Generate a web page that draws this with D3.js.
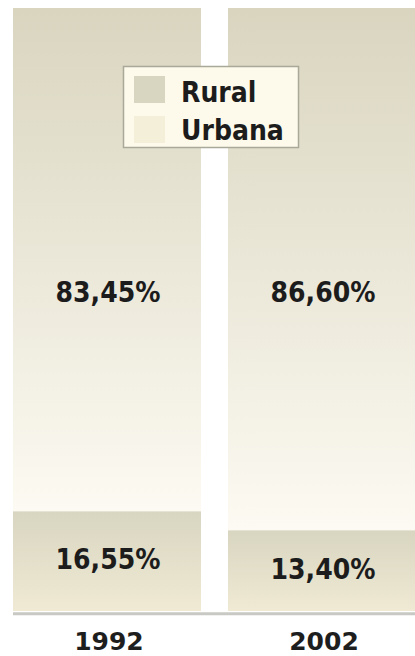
<!DOCTYPE html>
<html>
<head>
<meta charset="utf-8">
<script src="https://cdn.jsdelivr.net/npm/d3@7"></script>
<style>
  html, body { margin: 0; padding: 0; background: #ffffff; }
  svg { display: block; }
</style>
</head>
<body>
<svg id="chart" width="415" height="656"></svg>
<script>
// ---- data ----
const years = ["1992", "2002"];
const series = ["Rural", "Urbana"];
const rural = [16.55, 13.40];
const urbana = [83.45, 86.60];
const valueLabelsRural = ["16,55%", "13,40%"];
const valueLabelsUrbana = ["83,45%", "86,60%"];

// ---- layout ----
const W = 415, H = 656;
const svg = d3.select("#chart");
const defs = svg.append("defs");

function grad(id, top, bottom) {
  const g = defs.append("linearGradient").attr("id", id)
    .attr("x1", 0).attr("y1", 0).attr("x2", 0).attr("y2", 1);
  g.append("stop").attr("offset", "0%").attr("stop-color", top);
  g.append("stop").attr("offset", "100%").attr("stop-color", bottom);
}
grad("gRural", "#d8d5c0", "#f0ead4");
grad("gUrbana", "#d9d5bf", "#fcfaf2");

const x = d3.scaleBand().domain(years).range([13, 416]).paddingInner(0.1256).paddingOuter(0);
const y = d3.scaleLinear().domain([0, 100]).range([611, 8]);

const rows = years.map((yr, i) => ({ year: yr, Rural: rural[i], Urbana: urbana[i], i }));
const stack = d3.stack().keys(series)(rows);
const fills = { Rural: "url(#gRural)", Urbana: "url(#gUrbana)" };

stack.forEach(layer => {
  svg.append("g").selectAll("rect").data(layer).join("rect")
    .attr("x", d => x(d.data.year))
    .attr("width", x.bandwidth())
    .attr("y", d => y(d[1]))
    .attr("height", d => y(d[0]) - y(d[1]))
    .attr("fill", fills[layer.key]);
});

// axis baseline
const xAxis = svg.append("g").attr("transform", "translate(0,613.8)")
  .call(d3.axisBottom(x).tickSize(0).tickFormat(""));
xAxis.select(".domain").attr("stroke", "#c8c8c4").attr("stroke-width", 3)
  .attr("d", "M13,0H415");

// year labels
svg.append("g").selectAll("text").data(years).join("text")
  .attr("x", d => x(d) + x.bandwidth() / 2 + 2)
  .attr("y", 650)
  .attr("text-anchor", "middle")
  .attr("font-family", "DejaVu Sans")
  .attr("font-weight", "bold")
  .attr("font-size", 25)
  .attr("fill", "#1e1e1e")
  .text(d => d);

// value labels
const valFont = "DejaVu Sans Condensed";
svg.append("g").selectAll("text").data(rows).join("text")
  .attr("x", d => x(d.year) + x.bandwidth() / 2 + 1)
  .attr("y", d => (y(0) + y(d.Rural)) / 2 + 8)
  .attr("text-anchor", "middle")
  .attr("font-family", valFont).attr("font-stretch", "condensed")
  .attr("font-weight", "bold").attr("font-size", 28)
  .attr("fill", "#1c1c1c")
  .text(d => valueLabelsRural[d.i]);

svg.append("g").selectAll("text").data(rows).join("text")
  .attr("x", d => x(d.year) + x.bandwidth() / 2 + 1)
  .attr("y", y(51.2))
  .attr("text-anchor", "middle")
  .attr("font-family", valFont).attr("font-stretch", "condensed")
  .attr("font-weight", "bold").attr("font-size", 28)
  .attr("fill", "#1c1c1c")
  .text(d => valueLabelsUrbana[d.i]);

// legend
const lg = svg.append("g");
lg.append("rect").attr("x", 123.5).attr("y", 66.5).attr("width", 175).attr("height", 81)
  .attr("fill", "#fdfaeb").attr("stroke", "#a9a899").attr("stroke-width", 1.5);
const swatch = { Rural: "#d8d5c1", Urbana: "#f3efd9" };
series.forEach((s, i) => {
  lg.append("rect").attr("x", 134).attr("y", 76 + i * 40).attr("width", 31).attr("height", 27)
    .attr("fill", swatch[s]);
  lg.append("text").attr("x", 181).attr("y", 101.7 + i * 38.6)
    .attr("font-family", valFont).attr("font-stretch", "condensed")
    .attr("font-weight", "bold").attr("font-size", 28)
    .attr("fill", "#1c1c1c")
    .text(s);
});
</script>
</body>
</html>
